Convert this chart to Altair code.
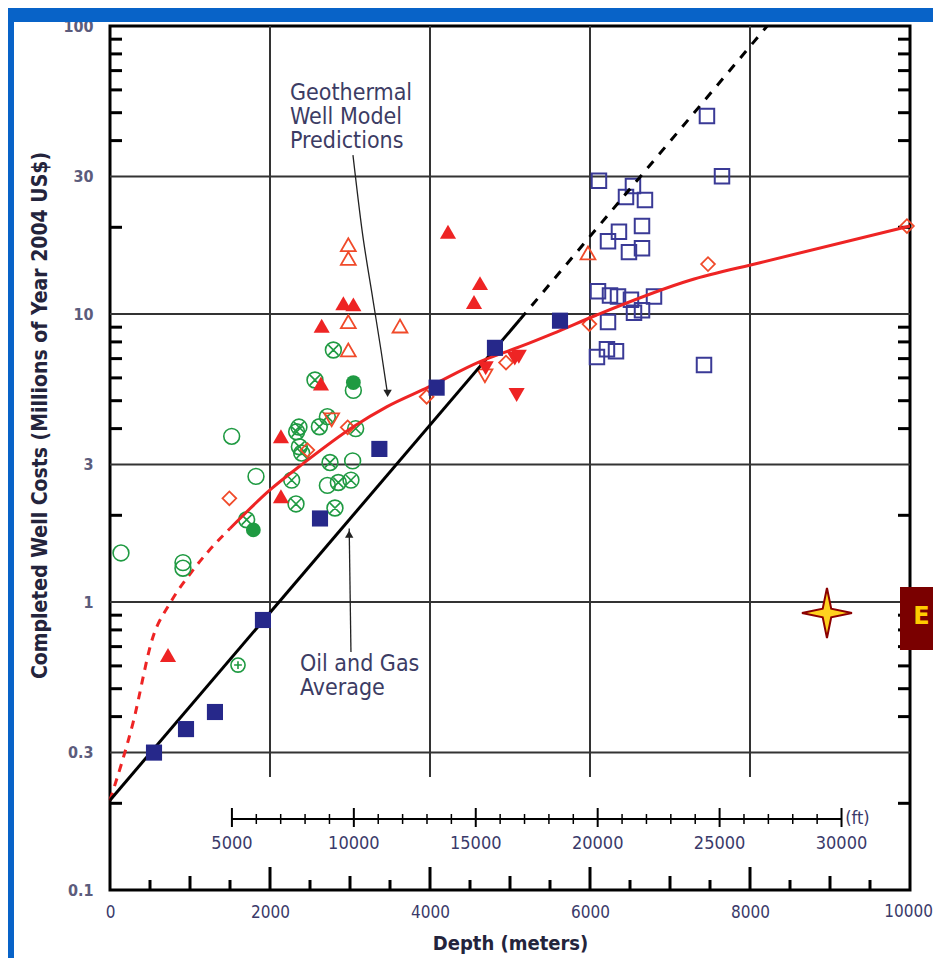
import altair as alt
import pandas as pd

# ---------------- data (depth in meters, cost in millions of 2004 US$) ----------------
# JAS average oil & gas wells (filled navy squares)
jas_x = [550, 950, 1312, 1912, 2625, 3367, 4083, 4812, 5625]
jas_y = [0.30, 0.362, 0.415, 0.866, 1.95, 3.40, 5.55, 7.63, 9.48]

# ultra-deep oil & gas wells (open navy squares)
ultra_x = [7462, 7650, 6112, 6537, 6450, 6687, 6650, 6362, 6225, 6650, 6487, 6100,
           6250, 6350, 6512, 6800, 6550, 6650, 6225, 6087, 6212, 6325, 7425]
ultra_y = [48.7, 30.1, 29.0, 27.8, 25.5, 24.9, 20.2, 19.3, 17.9, 16.9, 16.4, 12.0,
           11.6, 11.5, 11.2, 11.5, 10.1, 10.3, 9.38, 7.09, 7.55, 7.43, 6.65]

# geothermal wells, actual (filled red triangles up)
gup_x = [725, 2137, 2137, 2637, 2646, 2917, 3042, 4225, 4625, 4550]
gup_y = [0.655, 3.76, 2.33, 5.74, 9.1, 10.9, 10.8, 19.3, 12.8, 11.0]

# filled red triangles down
gdown_x = [4696, 5060, 5110, 5083]
gdown_y = [6.48, 7.0, 7.1, 5.23]

# open red triangles up
oup_x = [2979, 2979, 2979, 3625, 2979, 5975]
oup_y = [17.4, 15.6, 9.4, 9.08, 7.5, 16.3]

# open red triangles down
odown_x = [2771, 4687]
odown_y = [4.29, 6.1]

# open red diamonds (model predictions)
dia_x = [1492, 2467, 2971, 3958, 4950, 5992, 7475, 9962]
dia_y = [2.29, 3.37, 4.04, 5.16, 6.78, 9.23, 14.9, 20.2]

# green open circles
gc_x = [137, 912, 912, 1521, 1825, 3033, 2717, 3042]
gc_y = [1.48, 1.37, 1.31, 3.76, 2.73, 3.09, 2.54, 5.43]

# green circles with x
gx_x = [2792, 2562, 2362, 2333, 2617, 2717, 3071, 2367, 2396, 2750, 2271, 2854, 3012,
        2325, 2812, 1708]
gx_y = [7.5, 5.90, 4.05, 3.9, 4.06, 4.4, 4.0, 3.46, 3.29, 3.05, 2.65, 2.60, 2.65,
        2.19, 2.12, 1.93]

# green circle with plus
gp_x = [1600]
gp_y = [0.604]

# green filled circles
gf_x = [3042, 1792]
gf_y = [5.78, 1.78]

# geothermal well model prediction curve
curve_dash_x = [0, 287, 537, 750, 1037, 1212, 1500]
curve_dash_y = [0.205, 0.38, 0.756, 0.99, 1.29, 1.48, 1.80]
curve_x = [1500, 2000, 2417, 3042, 3458, 3979, 4625, 5125, 5542, 6083, 7250, 8125, 10000]
curve_y = [1.80, 2.45, 3.03, 4.06, 4.76, 5.57, 6.83, 7.70, 8.57, 9.92, 13.1, 15.07, 20.2]

# oil and gas average trend
oil_x = [0, 5125]
oil_y = [0.205, 9.57]
oil_dash_x = [5125, 8215]
oil_dash_y = [9.57, 100]

# annotation arrows
geo_arrow_x = [3037, 3150, 3287, 3387, 3462]
geo_arrow_y = [35.6, 19.6, 11.2, 7.5, 5.44]
oil_arrow_x = [3012, 2990]
oil_arrow_y = [0.67, 1.80]

# axes
x_ticks = [0, 2000, 4000, 6000, 8000]
x_last = [10000]
y_ticks = [0.1, 0.3, 1, 3, 10, 30, 100]
grid_y = [0.3, 1, 3, 10, 30]
grid_x = [2000, 4000, 6000, 8000]
minor_y = [0.2, 0.4, 0.5, 0.6, 0.7, 0.8, 0.9, 2, 4, 5, 6, 7, 8, 9, 20, 40, 50, 60, 70, 80, 90]
bottom_ticks = list(range(500, 10000, 500))
ft_ticks = list(range(5000, 30001, 1000))

FONT = "Liberation Sans Narrow, DejaVu Sans Condensed, sans-serif"
TXT = "#3c3c64"
LAB = "#3a3a6a"
RED = "#ee2424"
ORANGE = "#f04a2a"
NAVY = "#26288a"
GREEN = "#1f9a42"
SLIDE = "#0863c8"

x_axis = alt.Axis(values=x_ticks, format="d", title="Depth (meters)", grid=False, ticks=False,
                  domain=False, labelFont=FONT, labelFontSize=17, labelColor=LAB,
                  labelPadding=14, labelFlush=False, labelOverlap=False,
                  titleFont=FONT, titleFontSize=20, titleFontWeight="bold",
                  titleColor="#24243c", titlePadding=13)
y_axis = alt.Axis(values=y_ticks, format="~g",
                  title="Completed Well Costs (Millions of Year 2004 US$)",
                  grid=False, ticks=False, domain=False, labelFont=FONT, labelFontSize=16,
                  labelFontWeight="bold", labelColor="#5c5c7c", labelPadding=17,
                  labelFlush=False, labelOverlap=False,
                  titleFont=FONT, titleFontSize=21, titleFontWeight="bold",
                  titleColor="#24243c", titleX=-70, titleY=389, titleAngle=270,
                  titleAlign="center", titleBaseline="middle")

xs = alt.Scale(domain=[0, 10000], nice=False, zero=False)
ys = alt.Scale(type="log", domain=[0.1, 100], nice=False)


def X(f="x"):
    return alt.X(f + ":Q", scale=xs, axis=x_axis)


def Y(f="y"):
    return alt.Y(f + ":Q", scale=ys, axis=y_axis)


def df(xv, yv):
    return pd.DataFrame({"x": xv, "y": yv})


one = pd.DataFrame({"a": [0]})

# slide background strips (top and left)
top_strip = alt.Chart(one).mark_rect(color=SLIDE).encode(
    x=alt.value(-102), x2=alt.value(823), y=alt.value(-18), y2=alt.value(-4))
left_strip = alt.Chart(one).mark_rect(color=SLIDE).encode(
    x=alt.value(-102), x2=alt.value(-96), y=alt.value(-18), y2=alt.value(940))

# grid
hgrid = alt.Chart(pd.DataFrame({"y": grid_y, "x": 0, "x2": 10000})).mark_rule(
    color="#333333", strokeWidth=2).encode(x=X(), x2="x2:Q", y=Y())
vgrid = alt.Chart(pd.DataFrame({"x": grid_x, "y": 0.247, "y2": 100})).mark_rule(
    color="#333333", strokeWidth=2).encode(x=X(), y=Y(), y2="y2:Q")

# inward ticks on left / right
lt = alt.Chart(pd.DataFrame({"y": minor_y, "x": 0})).mark_rule(
    color="black", strokeWidth=3).encode(x=X(), x2=alt.value(12), y=Y())
rt = alt.Chart(pd.DataFrame({"y": minor_y, "x": 10000})).mark_rule(
    color="black", strokeWidth=3).encode(x=X(), x2=alt.value(788), y=Y())

bt_major = alt.Chart(pd.DataFrame({"x": [v for v in bottom_ticks if v % 2000 == 0], "y": 0.1})).mark_rule(
    color="black", strokeWidth=3).encode(x=X(), y=Y(), y2=alt.value(841))
bt_mid = alt.Chart(pd.DataFrame({"x": [v for v in bottom_ticks if v % 1000 == 0 and v % 2000 != 0], "y": 0.1})).mark_rule(
    color="black", strokeWidth=3).encode(x=X(), y=Y(), y2=alt.value(850))
bt_min = alt.Chart(pd.DataFrame({"x": [v for v in bottom_ticks if v % 1000 != 0], "y": 0.1})).mark_rule(
    color="black", strokeWidth=3).encode(x=X(), y=Y(), y2=alt.value(854))

# last x label, kept inside the canvas
x_last_lab = alt.Chart(pd.DataFrame({"x": x_last})).mark_text(
    font=FONT, fontSize=17, color=LAB, align="right", baseline="top", dx=23).encode(
    x=X(), y=alt.value(878), text=alt.Text("x:Q", format="d"))

# feet scale
ft_df = pd.DataFrame({"ft": ft_ticks})
ft_df["x"] = ft_df["ft"] * 0.3048
ft_line = alt.Chart(pd.DataFrame({"x": [5000 * 0.3048], "x2": [30000 * 0.3048]})).mark_rule(
    color="black", strokeWidth=2).encode(x=X(), x2="x2:Q", y=alt.value(793))
ft_major = alt.Chart(ft_df[ft_df.ft % 5000 == 0]).mark_rule(color="black", strokeWidth=2).encode(
    x=X(), y=alt.value(782), y2=alt.value(801))
ft_minor = alt.Chart(ft_df[ft_df.ft % 5000 != 0]).mark_rule(color="black", strokeWidth=1.5).encode(
    x=X(), y=alt.value(788), y2=alt.value(798))
ft_lab = alt.Chart(ft_df[ft_df.ft % 5000 == 0]).mark_text(
    font=FONT, fontSize=18, color=LAB, baseline="middle").encode(
    x=X(), y=alt.value(818), text="ft:Q")
ft_unit = alt.Chart(pd.DataFrame({"x": [9190], "t": ["(ft)"]})).mark_text(
    font=FONT, fontSize=18, color=LAB, align="left", baseline="middle").encode(
    x=X(), y=alt.value(793), text="t:N")

# trend lines
oil_line = alt.Chart(df(oil_x, oil_y)).mark_line(color="black", strokeWidth=3).encode(x=X(), y=Y())
oil_dash = alt.Chart(df(oil_dash_x, oil_dash_y)).mark_line(
    color="black", strokeWidth=3, strokeDash=[9, 9]).encode(x=X(), y=Y())
geo_line = alt.Chart(df(curve_x, curve_y)).mark_line(
    color=RED, strokeWidth=3, interpolate="monotone").encode(x=X(), y=Y())
geo_dash = alt.Chart(df(curve_dash_x, curve_dash_y)).mark_line(
    color=RED, strokeWidth=3, strokeDash=[8, 7], interpolate="monotone").encode(x=X(), y=Y())

CIRC = "M-1,0 A1,1 0 1,0 1,0 A1,1 0 1,0 -1,0 Z"
CIRC_X = CIRC + " M-0.62,-0.62 L0.62,0.62 M-0.62,0.62 L0.62,-0.62"
CIRC_P = CIRC + " M-0.55,0 L0.55,0 M0,-0.55 L0,0.55"
STAR = "M0,-1 L0.17,-0.17 L1,0 L0.17,0.17 L0,1 L-0.17,0.17 L-1,0 L-0.17,-0.17 Z"


def pts(xv, yv, **kw):
    return alt.Chart(df(xv, yv)).mark_point(**kw).encode(x=X(), y=Y())


layers = [
    top_strip, left_strip, hgrid, vgrid, lt, rt, bt_major, bt_mid, bt_min, x_last_lab,
    ft_line, ft_major, ft_minor, ft_lab, ft_unit,
    geo_dash,
    pts(gc_x, gc_y, shape="circle", filled=False, color=GREEN, size=250, strokeWidth=1.6, opacity=1),
    pts(gx_x, gx_y, shape=CIRC_X, filled=False, color=GREEN, size=250, strokeWidth=1.6, opacity=1),
    pts(gp_x, gp_y, shape=CIRC_P, filled=False, color=GREEN, size=200, strokeWidth=1.6, opacity=1),
    pts(gf_x, gf_y, shape="circle", filled=True, color=GREEN, size=220, opacity=1),
    pts(oup_x, oup_y, shape="triangle-up", filled=False, color=ORANGE, size=220, strokeWidth=1.8, opacity=1),
    pts(odown_x, odown_y, shape="triangle-down", filled=False, color=ORANGE, size=220, strokeWidth=1.8, opacity=1),
    pts(dia_x, dia_y, shape="diamond", filled=False, color=ORANGE, size=190, strokeWidth=1.8, opacity=1),
    pts(ultra_x, ultra_y, shape="square", filled=False, color="#3a3a96", size=210, strokeWidth=2, opacity=1),
    oil_line, oil_dash, geo_line,
    pts(jas_x, jas_y, shape="square", filled=True, color=NAVY, size=260, opacity=1),
    pts(gup_x, gup_y, shape="triangle-up", filled=True, color=RED, size=260, opacity=1),
    pts(gdown_x, gdown_y, shape="triangle-down", filled=True, color=RED, size=260, opacity=1),
]

# annotations
geo_arrow = alt.Chart(df(geo_arrow_x, geo_arrow_y)).mark_line(
    color="#222222", strokeWidth=1.3, interpolate="monotone").encode(x=X(), y=Y())
geo_head = pts([3470], [5.3], shape="triangle-down", filled=True, color="#222222", size=70, opacity=1)
oil_arrow = alt.Chart(df(oil_arrow_x, oil_arrow_y)).mark_line(
    color="#222222", strokeWidth=1.3).encode(x=X(), y=Y())
oil_head = pts([2990], [1.72], shape="triangle-up", filled=True, color="#222222", size=70, opacity=1)

geo_txt = alt.Chart(pd.DataFrame({
    "x": [2250, 2250, 2250], "y": [58.5, 48.3, 39.9],
    "t": ["Geothermal", "Well Model", "Predictions"]})).mark_text(
    font=FONT, fontSize=23, color=TXT, align="left", baseline="middle").encode(
    x=X(), y=Y(), text="t:N")
oil_txt = alt.Chart(pd.DataFrame({
    "x": [2375, 2375], "y": [0.609, 0.503], "t": ["Oil and Gas", "Average"]})).mark_text(
    font=FONT, fontSize=23, color=TXT, align="left", baseline="middle").encode(
    x=X(), y=Y(), text="t:N")

# slide decorations
star = pts([8962], [0.916], shape=STAR, filled=True, fill="#ffd21f", stroke="#8b0000",
           strokeWidth=2, size=2500, opacity=1)
ebox = alt.Chart(pd.DataFrame({"x": [9875], "x2": [10500], "y": [1.127], "y2": [0.681]})).mark_rect(
    color="#7a0000").encode(x=X(), x2="x2:Q", y=Y(), y2="y2:Q")
etxt = alt.Chart(pd.DataFrame({"x": [10040], "y": [0.89], "t": ["E"]})).mark_text(
    font="DejaVu Sans", fontSize=24, fontWeight="bold", color="#ffcc00", align="left",
    baseline="middle").encode(x=X(), y=Y(), text="t:N")

layers += [geo_arrow, geo_head, oil_arrow, oil_head, geo_txt, oil_txt, star, ebox, etxt]

chart = alt.layer(*layers).properties(
    width=800, height=864,
    autosize=alt.AutoSizeParams(type="none"),
    padding={"left": 102, "top": 18, "right": 23, "bottom": 68},
    background="white",
).configure_view(stroke="black", strokeWidth=3)

chart.save("out.html", embed_options={"renderer": "svg", "actions": False})
